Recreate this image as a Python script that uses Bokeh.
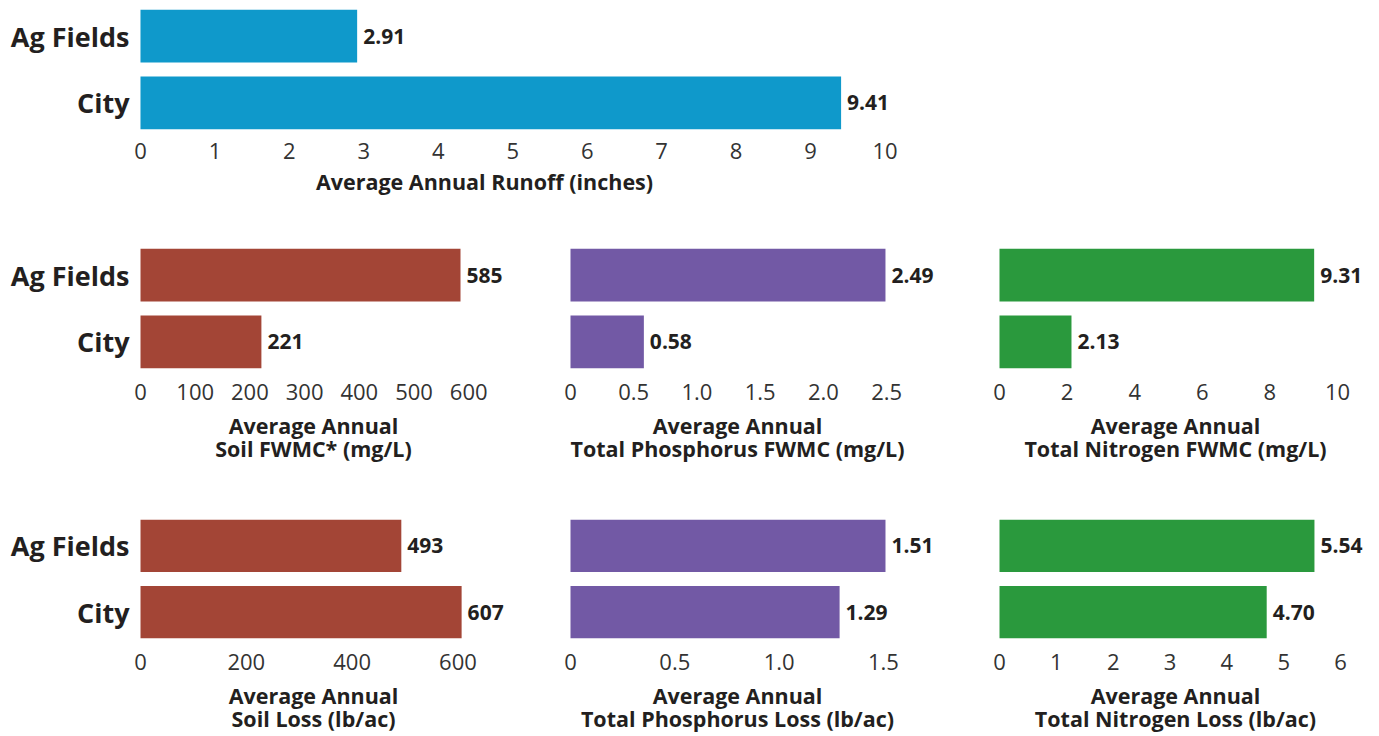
from bokeh.plotting import figure
from bokeh.models import FactorRange, Range1d, FixedTicker, ColumnDataSource
from bokeh.layouts import column, row
from bokeh.embed import file_html
from bokeh.resources import INLINE
from bokeh.core.properties import value

# ---------------- data ----------------
categories = ["Ag Fields", "City"]

runoff = [2.91, 9.41]
runoff_labels = ["2.91", "9.41"]
runoff_ticks = [0, 1, 2, 3, 4, 5, 6, 7, 8, 9, 10]
runoff_tick_labels = ["0", "1", "2", "3", "4", "5", "6", "7", "8", "9", "10"]

soil_fwmc = [585, 221]
soil_fwmc_labels = ["585", "221"]
soil_fwmc_ticks = [0, 100, 200, 300, 400, 500, 600]
soil_fwmc_tick_labels = ["0", "100", "200", "300", "400", "500", "600"]

tp_fwmc = [2.49, 0.58]
tp_fwmc_labels = ["2.49", "0.58"]
tp_fwmc_ticks = [0, 0.5, 1.0, 1.5, 2.0, 2.5]
tp_fwmc_tick_labels = ["0", "0.5", "1.0", "1.5", "2.0", "2.5"]

tn_fwmc = [9.31, 2.13]
tn_fwmc_labels = ["9.31", "2.13"]
tn_fwmc_ticks = [0, 2, 4, 6, 8, 10]
tn_fwmc_tick_labels = ["0", "2", "4", "6", "8", "10"]

soil_loss = [493, 607]
soil_loss_labels = ["493", "607"]
soil_loss_ticks = [0, 200, 400, 600]
soil_loss_tick_labels = ["0", "200", "400", "600"]

tp_loss = [1.51, 1.29]
tp_loss_labels = ["1.51", "1.29"]
tp_loss_ticks = [0, 0.5, 1.0, 1.5]
tp_loss_tick_labels = ["0", "0.5", "1.0", "1.5"]

tn_loss = [5.54, 4.70]
tn_loss_labels = ["5.54", "4.70"]
tn_loss_ticks = [0, 1, 2, 3, 4, 5, 6]
tn_loss_tick_labels = ["0", "1", "2", "3", "4", "5", "6"]

# ---------------- style ----------------
FONT = "Open Sans"
TEXT = "#231f20"
BLUE = "#0f99cb"
BROWN = "#a34536"
PURPLE = "#7259a5"
GREEN = "#2a993d"


def panel(vals, labels, ticks, tick_labels, x_start, x_end, color, title,
          cat_standoff, left, frame_w, right, top, bottom, tick_standoff=15, title_standoff=8):
    y_range = FactorRange(factors=list(reversed(categories)), factor_padding=0.264,
                          range_padding=0)
    width = left + frame_w + right
    height = top + 120 + bottom
    p = figure(y_range=y_range, x_range=Range1d(x_start, x_end), width=width, height=height,
               output_backend="svg", toolbar_location=None, tools="",
               min_border_left=left, min_border_right=right,
               min_border_top=top, min_border_bottom=bottom)
    p.outline_line_color = None
    p.grid.visible = False
    p.background_fill_color = None
    p.border_fill_color = None
    src = ColumnDataSource(dict(cat=categories, v=vals, lab=labels))
    p.hbar(y="cat", right="v", left=0, height=1.0, source=src, color=color, line_color=None)
    p.text(x="v", y="cat", text="lab", source=src, x_offset=6,
           text_baseline="middle", text_align="left",
           text_font=value(FONT), text_font_style="bold", text_font_size="21px",
           text_color=TEXT)
    xa = p.xaxis[0]
    xa.ticker = FixedTicker(ticks=ticks)
    xa.major_label_overrides = {t: l for t, l in zip(ticks, tick_labels)}
    xa.axis_line_color = None
    xa.major_tick_line_color = None
    xa.minor_tick_line_color = None
    xa.major_tick_out = 0
    xa.major_tick_in = 0
    xa.major_label_standoff = tick_standoff
    xa.major_label_text_font = FONT
    xa.major_label_text_font_size = "22px"
    xa.major_label_text_color = "#333333"
    xa.axis_label = title
    xa.axis_label_text_font = FONT
    xa.axis_label_text_font_style = "bold"
    xa.axis_label_text_font_size = "21.5px"
    xa.axis_label_text_color = TEXT
    xa.axis_label_text_align = "center"
    xa.axis_label_text_line_height = 0.82
    xa.axis_label_standoff = title_standoff
    ya = p.yaxis[0]
    if cat_standoff is not None:
        ya.axis_line_color = None
        ya.major_tick_line_color = None
        ya.minor_tick_line_color = None
        ya.major_tick_out = 0
        ya.major_tick_in = 0
        ya.major_label_standoff = cat_standoff
        ya.major_label_text_font = FONT
        ya.major_label_text_font_style = "bold"
        ya.major_label_text_font_size = "27px"
        ya.major_label_text_color = TEXT
    else:
        ya.visible = False
    return p


top_fig = panel(runoff, runoff_labels, runoff_ticks, runoff_tick_labels, -0.940, 10.181, BLUE,
                "Average Annual Runoff (inches)", -59, 70, 828, 10, 9, 79,
                tick_standoff=13, title_standoff=5)

a2 = panel(soil_fwmc, soil_fwmc_labels, soil_fwmc_ticks, soil_fwmc_tick_labels, -43.9, 676.4, BROWN,
           "Average Annual\nSoil FWMC* (mg/L)", -13, 116, 394, 10, 40, 110)
b2 = panel(tp_fwmc, tp_fwmc_labels, tp_fwmc_ticks, tp_fwmc_tick_labels, -0.2846, 2.925, PURPLE,
           "Average Annual\nTotal Phosphorus FWMC (mg/L)", None, 14, 406, 10, 40, 110)
c2 = panel(tn_fwmc, tn_fwmc_labels, tn_fwmc_ticks, tn_fwmc_tick_labels, -0.621, 11.036, GREEN,
           "Average Annual\nTotal Nitrogen FWMC (mg/L)", None, 28, 394, 2, 40, 110)

a3 = panel(soil_loss, soil_loss_labels, soil_loss_ticks, soil_loss_tick_labels, -45.4, 699.4, BROWN,
           "Average Annual\nSoil Loss (lb/ac)", -13, 116, 394, 10, 41, 97)
b3 = panel(tp_loss, tp_loss_labels, tp_loss_ticks, tp_loss_tick_labels, -0.1726, 1.7737, PURPLE,
           "Average Annual\nTotal Phosphorus Loss (lb/ac)", None, 14, 406, 10, 41, 97)
c3 = panel(tn_loss, tn_loss_labels, tn_loss_ticks, tn_loss_tick_labels, -0.3694, 6.561, GREEN,
           "Average Annual\nTotal Nitrogen Loss (lb/ac)", None, 28, 394, 2, 41, 97)

layout = column(top_fig, row(a2, b2, c2, spacing=0), row(a3, b3, c3, spacing=0), spacing=0)

open("out.html", "w").write(file_html(layout, INLINE))
